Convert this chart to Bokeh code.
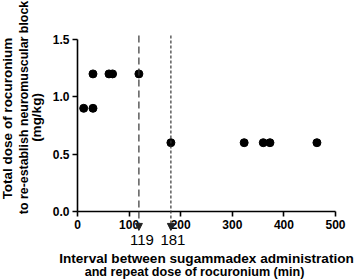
from bokeh.plotting import figure
from bokeh.models import Range1d, FixedTicker, Label, Arrow, NormalHead, PrintfTickFormatter
from bokeh.embed import file_html
from bokeh.resources import INLINE

# data
interval = [12, 30, 30, 61, 68, 119, 181, 323, 360, 373, 464]
dose = [0.9, 0.9, 1.2, 1.2, 1.2, 1.2, 0.6, 0.6, 0.6, 0.6, 0.6]
x_ticks = [0, 100, 200, 300, 400, 500]
y_ticks = [0.0, 0.5, 1.0, 1.5]
marker_x = [119, 181]
marker_labels = ["119", "181"]
y_title = ["Total dose of rocuronium", "to re-establish neuromuscular block", "(mg/kg)"]
x_title = ["Interval between sugammadex administration", "and repeat dose of rocuronium (min)"]

FONT = "Liberation Sans"
W, H = 358, 280
X0, XS = 77, 258 / 500          # pixel of x=0, px per unit
Y0, YS = 211, 172 / 1.5         # pixel of y=0, px per unit

p = figure(width=W, height=H, output_backend="svg", toolbar_location=None,
           x_range=Range1d(-X0 / XS, (W - X0) / XS),
           y_range=Range1d(-(H - Y0) / YS, Y0 / YS),
           min_border=0, min_border_left=0, min_border_right=0,
           min_border_top=0, min_border_bottom=0)
p.outline_line_color = None
p.xgrid.visible = False
p.ygrid.visible = False

for ax, ticks in ((p.xaxis[0], x_ticks), (p.yaxis[0], y_ticks)):
    ax.ticker = FixedTicker(ticks=ticks)
    ax.bounds = (ticks[0], ticks[-1])
    ax.fixed_location = 0
    ax.axis_line_width = 1.6
    ax.major_tick_line_width = 1.6
    ax.major_tick_out = 5
    ax.major_tick_in = 0
    ax.minor_tick_line_color = None
    ax.major_label_text_font = FONT
    ax.major_label_text_font_style = "bold"
    ax.major_label_text_font_size = "12px"
    ax.major_label_text_color = "black"
    ax.axis_line_color = "black"
    ax.major_tick_line_color = "black"
p.yaxis[0].formatter = PrintfTickFormatter(format="%.1f")
p.xaxis[0].major_label_standoff = 3
p.yaxis[0].major_label_standoff = 3

dashes = ["7 4", "3 2"]
offsets = [3, 2]
for xv, lab, dash, off in zip(marker_x, marker_labels, dashes, offsets):
    p.add_layout(Arrow(x_start=xv, y_start=1.535, x_end=xv, y_end=-0.165,
                       line_dash=dash, line_width=1.2, line_color="#333333",
                       end=NormalHead(size=7, fill_color="#222222", line_color="#222222")))
    p.add_layout(Label(x=xv, y=-0.245, text=lab, text_align="center",
                       text_baseline="middle", x_offset=off, text_font=FONT,
                       text_font_size="15px", text_color="black"))

p.scatter(interval, dose, size=8, color="black")

y_title_x = [7, 23, 36]
y_title_center = [118, 107, 117]
y_title_size = ["13.5px", "12.4px", "13.5px"]
for t, sx, sc, fs in zip(y_title, y_title_x, y_title_center, y_title_size):
    p.add_layout(Label(x=sx, y=H - sc, x_units="screen", y_units="screen", text=t,
                       angle=90, angle_units="deg", text_align="center", text_baseline="middle",
                       text_font=FONT, text_font_style="bold", text_font_size=fs,
                       text_color="black"))

x_title_center = [206, 194]
x_title_base = [257.5, 271]
x_title_size = ["13.6px", "12.6px"]
for t, cx, by, fs in zip(x_title, x_title_center, x_title_base, x_title_size):
    p.add_layout(Label(x=cx, y=H - by, x_units="screen", y_units="screen", text=t,
                       text_align="center", text_baseline="alphabetic",
                       text_font=FONT, text_font_style="bold", text_font_size=fs,
                       text_color="black"))

open("out.html", "w").write(file_html(p, INLINE))
